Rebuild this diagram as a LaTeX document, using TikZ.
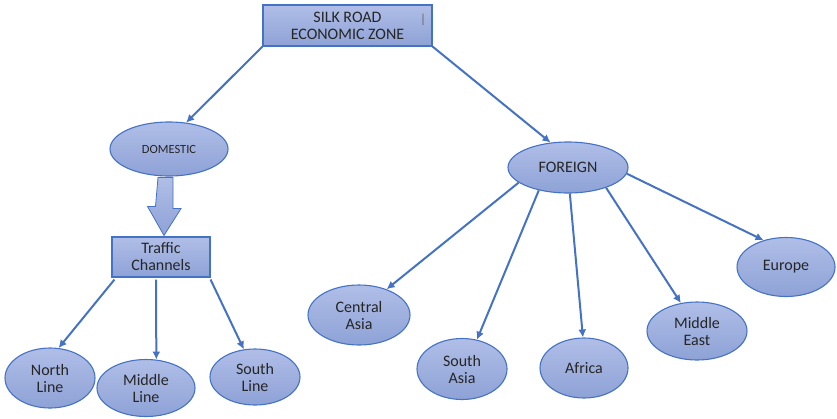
\documentclass[tikz,border=0pt]{standalone}
\usepackage{fontspec}
\setmainfont{Carlito}
\usetikzlibrary{shapes.geometric,arrows.meta,calc}
\definecolor{edgeblue}{HTML}{4472C4}
\definecolor{filltop}{HTML}{B0BEE7}
\definecolor{fillbot}{HTML}{8EA2D6}
\tikzset{
  shapeface/.style={draw=edgeblue, line width=1.1pt, top color=filltop, bottom color=fillbot, text=black!85, align=center, inner sep=0pt},
  oval/.style={shapeface, ellipse},
  boxnode/.style={shapeface, rectangle},
  lbl/.style={font=\fontsize{16}{17}\selectfont},
  link/.style={draw=edgeblue, line width=2pt, -{Latex[length=8pt,width=8pt]}},
}
\begin{document}
\begin{tikzpicture}[x=1pt,y=-1pt]
\useasboundingbox (0,0) rectangle (837,418);
% top
\node[boxnode, minimum width=169pt, minimum height=41pt, lbl] (top) at (347.5,25.5) {SILK ROAD\\ECONOMIC ZONE};
\node[text=black!60, font=\fontsize{13}{13}\selectfont, inner sep=0pt] (cursor) at (423,20) {|};
% domestic branch
\node[oval, minimum width=118pt, minimum height=54pt, font=\fontsize{12.5}{13}\selectfont] (dom) at (169,149) {DOMESTIC};
\node[boxnode, minimum width=98pt, minimum height=40pt, lbl] (tc) at (161,257) {Traffic\\Channels};
\node[oval, minimum width=90pt, minimum height=60pt, lbl] (nl) at (50,378) {North\\Line};
\node[oval, minimum width=98pt, minimum height=57pt, lbl] (ml) at (146,388) {Middle\\Line};
\node[oval, minimum width=90pt, minimum height=56pt, lbl] (sl) at (255,377) {South\\Line};
% foreign branch
\node[oval, minimum width=120pt, minimum height=51pt, lbl] (fo) at (568,167.5) {FOREIGN};
\node[oval, minimum width=102pt, minimum height=60pt, lbl] (ca) at (359,315) {Central\\Asia};
\node[oval, minimum width=90pt, minimum height=61pt, lbl] (sa) at (462,369) {South\\Asia};
\node[oval, minimum width=88pt, minimum height=60pt, lbl] (af) at (584,368) {Africa};
\node[oval, minimum width=100pt, minimum height=58pt, lbl] (me) at (697,331) {Middle\\East};
\node[oval, minimum width=98pt, minimum height=59pt, lbl] (eu) at (786,267) {Europe};
% connectors
\draw[link] (top.south west) -- (dom.57);
\draw[link] (top.south east) -- (fo.125);
\draw[link] (fo.197) -- (ca.43);
\draw[link] (fo.218) -- (sa.63);
\draw[link] (fo.274) -- (af.92);
\draw[link] (fo.332) -- (me.120);
\draw[link] (fo.354) -- (eu.130);
\draw[link] ($(tc.south west)+(3,2)$) -- (nl.74);
\draw[link] ($(tc.south)+(-5,2)$) -- (ml.70);
\draw[link] ($(tc.south east)+(0,2)$) -- (sl.112);
% block arrow
\path[draw=edgeblue, line width=0.8pt, top color=filltop, bottom color=fillbot]
  ($(dom.south)+(-11,1)$) -- ++(15,0) -- ++(0,31) -- ++(8,0) -- ($(tc.north)+(3,-1)$) -- ++(-16.5,-29) -- ++(8,0) -- cycle;
\end{tikzpicture}
\end{document}
